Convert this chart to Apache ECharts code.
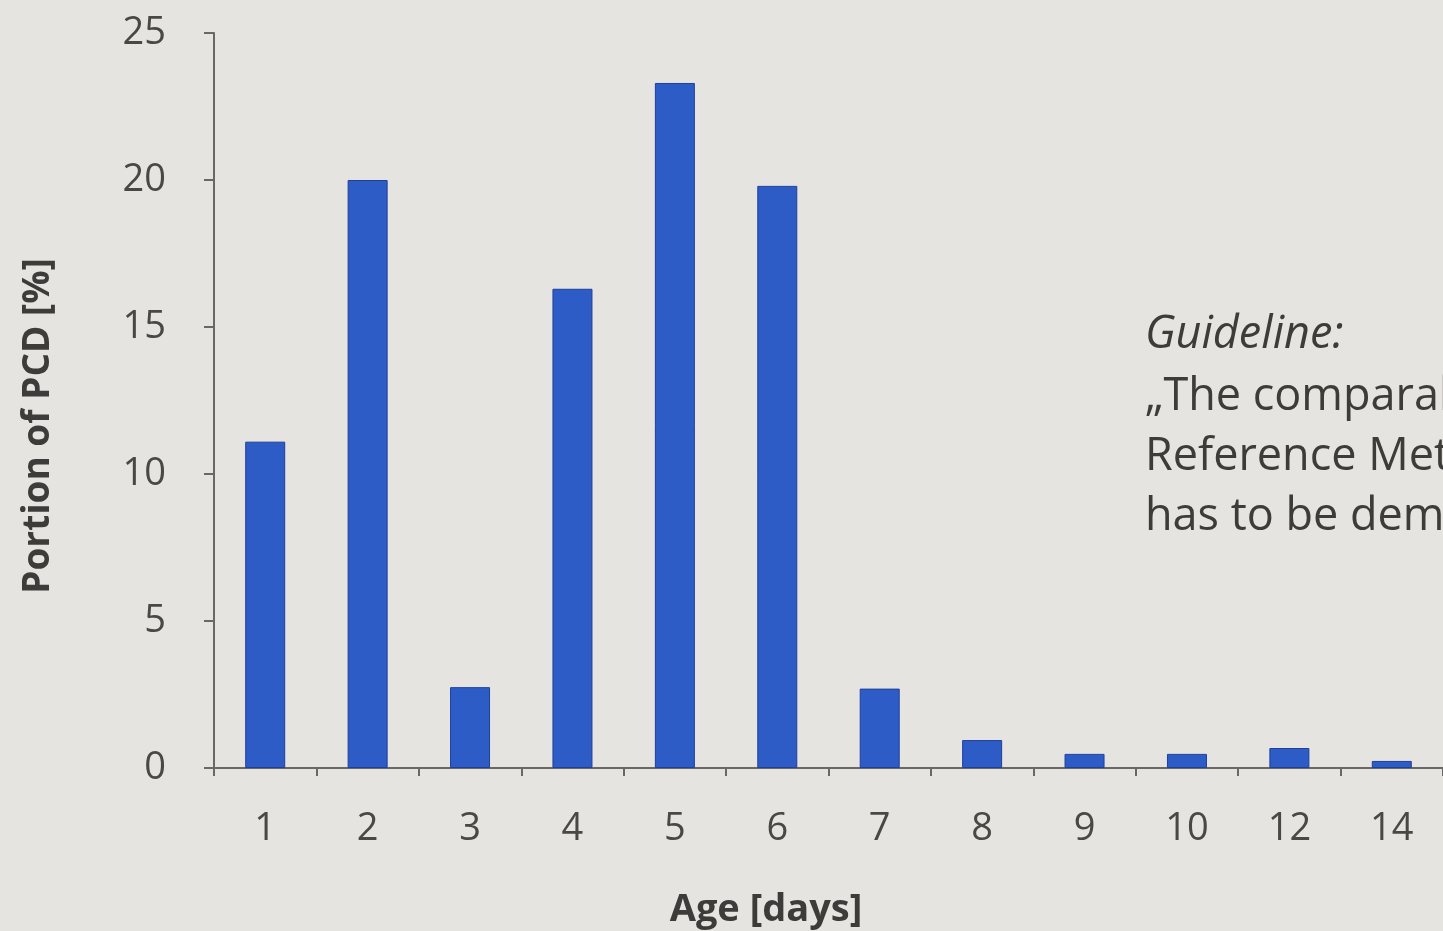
<!DOCTYPE html>
<html><head><meta charset="utf-8">
<script src="https://cdn.jsdelivr.net/npm/echarts@6/dist/echarts.min.js"></script>
<style>html,body{margin:0;padding:0;background:#e6e4e1;}#c{width:1443px;height:931px;}</style>
</head><body><div id="c"></div>
<script>
const categories = ['1','2','3','4','5','6','7','8','9','10','12','14'];
const portion = [11.1, 20.0, 2.75, 16.3, 23.3, 19.8, 2.7, 0.95, 0.48, 0.48, 0.68, 0.24];
const yTicks = {min: 0, max: 25, interval: 5};
const xTitle = 'Age [days]';
const yTitle = 'Portion of PCD [%]';
const guideline = ['Guideline:', '„The comparability of the', 'Reference Method and the', 'has to be demonstrated'];

const chart = echarts.init(document.getElementById('c'));
const font = '"Open Sans", "Noto Sans", sans-serif';
const axisColor = '#6a6866';
const textColor = '#3e3c3a';
chart.setOption({
  backgroundColor: '#e6e4e1',
  animation: false,
  grid: {left: 214, right: -2, top: 33, bottom: 163, containLabel: false},
  xAxis: {
    type: 'category', data: categories,
    axisLine: {lineStyle: {color: axisColor, width: 2}},
    axisTick: {show: true, length: 8, lineStyle: {color: axisColor, width: 2}},
    axisLabel: {fontFamily: font, fontSize: 38, color: '#4a4846', margin: 42}
  },
  yAxis: {
    type: 'value', min: yTicks.min, max: yTicks.max, interval: yTicks.interval,
    axisLine: {show: true, lineStyle: {color: axisColor, width: 2}},
    axisTick: {show: true, length: 10, lineStyle: {color: axisColor, width: 2}},
    axisLabel: {fontFamily: font, fontSize: 38, color: '#4a4846', margin: 48},
    splitLine: {show: false}
  },
  series: [{
    type: 'bar', data: portion, barWidth: 40,
    itemStyle: {color: '#2d5cc6', borderColor: '#1f3f9a', borderWidth: 1}
  }],
  graphic: [
    {type: 'text', x: 766, y: 910, style: {text: xTitle, font: 'bold 38px ' + font, fill: textColor, align: 'center', verticalAlign: 'middle'}},
    {type: 'text', x: 38, y: 426, rotation: Math.PI / 2, style: {text: yTitle, font: 'bold 37px ' + font, fill: textColor, align: 'center', verticalAlign: 'middle'}},
    {type: 'text', x: 1145, y: 335, style: {text: guideline[0], font: 'italic 45px ' + font, fill: textColor, verticalAlign: 'middle'}},
    {type: 'text', x: 1145, y: 397, style: {text: guideline[1], font: '45px ' + font, fill: textColor, verticalAlign: 'middle'}},
    {type: 'text', x: 1145, y: 457, style: {text: guideline[2], font: '45px ' + font, fill: textColor, verticalAlign: 'middle'}},
    {type: 'text', x: 1145, y: 517, style: {text: guideline[3], font: '45px ' + font, fill: textColor, verticalAlign: 'middle'}}
  ]
});
</script></body></html>
